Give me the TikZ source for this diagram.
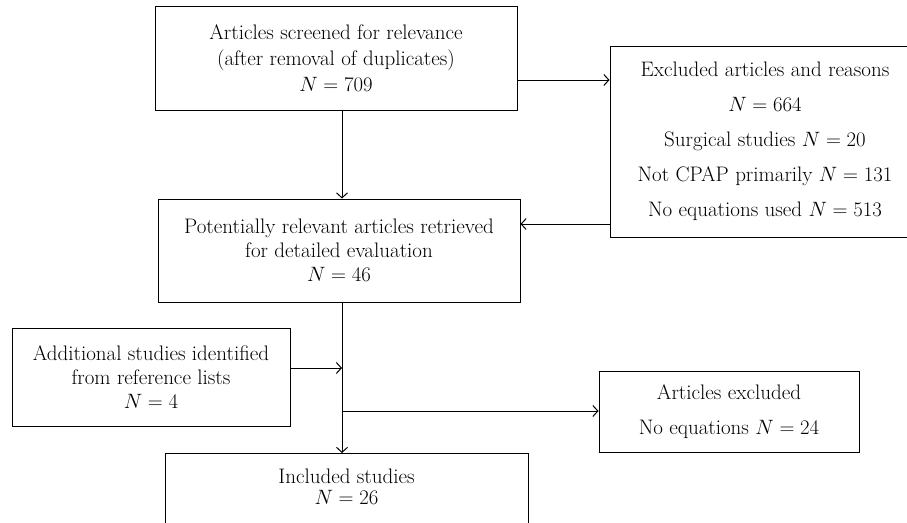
\documentclass[tikz,border=0pt]{standalone}
\usetikzlibrary{arrows.meta}
\begin{document}
\begin{tikzpicture}[x=1pt,y=-1pt,
  box/.style={draw, line width=1pt, inner sep=0pt, align=center},
  fs/.style={font=\fontsize{21}{#1}\selectfont},
  arr/.style={line width=1pt, -{Straight Barb[length=5pt,width=11pt,line width=1pt]}}]
\useasboundingbox (0,0) rectangle (907,522);
\clip (0,0) rectangle (907,522);
\coordinate (sp) at (342,0);
\coordinate (r1) at (0,80);
\coordinate (r2) at (0,224);
\coordinate (j1) at (342,368);
\coordinate (j2) at (342,411);

\node[box, fs=26, minimum width=362pt, minimum height=104pt] (b1) at (336,58)
  {Articles screened for relevance\\(after removal of duplicates)\\$N = 709$};
\node[box, fs=24, minimum width=362pt, minimum height=103pt] (b2) at (339,250.5)
  {Potentially relevant articles retrieved\\for detailed evaluation\\$N = 46$};
\node[box, fs=22, minimum width=310pt, minimum height=191pt] (b3) at (765,141.5)
  {Excluded articles and reasons\\[13pt]$N = 664$\\[13pt]Surgical studies $N = 20$\\[13pt]Not CPAP primarily $N = 131$\\[13pt]No equations used $N = 513$};
\node[box, fs=24, minimum width=278pt, minimum height=98pt] (b4) at (151,377)
  {Additional studies identified\\from reference lists\\$N = 4$};
\node[box, fs=22, minimum width=260pt, minimum height=81pt] (b5) at (729,411.5)
  {Articles excluded\\[13pt]No equations $N = 24$};
\node[box, minimum width=363pt, minimum height=90pt, anchor=north] (b6) at (346.5,453) {};
\node[fs=21, align=center, inner sep=0pt] (b6t) at (346.5,486.5)
  {Included studies\\$N = 26$};

\draw[arr] (b1.south -| sp) -- (b2.north -| sp);
\draw[arr] (b1.east |- r1) -- (b3.west |- r1);
\draw[arr] (b3.west |- r2) -- (b2.east |- r2);
\draw[arr] (b2.south -| sp) -- (b6.north -| sp);
\draw[arr] (b4.east |- j1) -- (j1);
\draw[arr] (j2) -- (b5.west |- j2);
\end{tikzpicture}
\end{document}
